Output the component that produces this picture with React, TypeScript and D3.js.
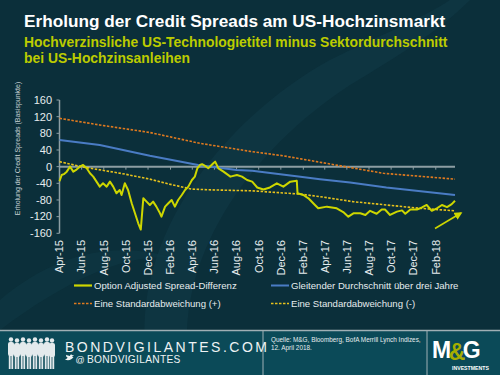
import React from "react";
import * as d3 from "d3";

const oasDates = ["2015-04-01","2015-04-07","2015-04-13","2015-04-21","2015-04-30","2015-05-09","2015-05-18","2015-05-27","2015-06-05","2015-06-15","2015-06-24","2015-07-03","2015-07-12","2015-07-21","2015-07-30","2015-08-09","2015-08-18","2015-08-27","2015-09-05","2015-09-14","2015-09-19","2015-09-28","2015-10-07","2015-10-17","2015-10-26","2015-11-04","2015-11-11","2015-11-18","2015-11-27","2015-12-06","2015-12-15","2015-12-24","2016-01-03","2016-01-07","2016-01-17","2016-01-26","2016-02-04","2016-02-13","2016-02-22","2016-03-03","2016-03-12","2016-03-21","2016-03-31","2016-04-08","2016-04-15","2016-04-22","2016-04-28","2016-05-06","2016-05-15","2016-05-29","2016-06-03","2016-06-12","2016-06-26","2016-07-15","2016-08-02","2016-08-16","2016-08-30","2016-09-13","2016-09-27","2016-10-14","2016-11-01","2016-11-20","2016-12-08","2016-12-27","2017-01-14","2017-01-16","2017-02-01","2017-02-15","2017-03-05","2017-03-14","2017-04-07","2017-05-04","2017-05-22","2017-06-05","2017-06-19","2017-07-08","2017-07-22","2017-08-04","2017-08-22","2017-09-05","2017-09-14","2017-09-28","2017-10-17","2017-10-31","2017-11-09","2017-11-23","2017-12-11","2017-12-25","2018-01-07","2018-01-21","2018-02-04","2018-02-18","2018-03-04","2018-03-17","2018-03-26"];
const oasValues = [-35,-20,-18,-12,0,-12,-7,0,4,-4,-16,-24,-36,-48,-40,-48,-36,-48,-64,-56,-68,-40,-56,-88,-112,-136,-151,-76,-84,-92,-84,-96,-112,-120,-96,-88,-80,-96,-80,-68,-56,-48,-32,-24,-4,4,6,2,-4,8,12,-4,-12,-24,-20,-24,-32,-36,-50,-55,-50,-40,-48,-36,-34,-64,-68,-76,-92,-100,-96,-100,-109,-120,-112,-112,-116,-106,-113,-103,-103,-116,-108,-105,-113,-103,-103,-98,-92,-106,-100,-92,-97,-90,-82];

const meanDates = ["2015-04-01","2015-07-21","2015-12-06","2016-04-17","2016-08-01","2016-09-13","2017-01-24","2017-03-19","2017-06-10","2017-09-18","2018-03-26"];
const meanValues = [64,52,26,4,-8,-10,-24,-30,-38,-50,-68];

const upperDates = ["2015-04-01","2015-07-21","2015-12-06","2016-04-22","2016-09-13","2016-12-08","2017-03-10","2017-05-27","2017-09-10","2018-03-26"];
const upperValues = [116,100,82,56,36,26,12,0,-16,-30];

const lowerDates = ["2015-04-01","2015-05-31","2015-09-29","2015-12-06","2016-01-29","2016-03-31","2016-06-03","2016-09-13","2017-01-24","2017-03-19","2017-06-18","2017-09-18","2017-12-19","2018-03-26"];
const lowerValues = [12,0,-18,-30,-42,-54,-56,-58,-66,-72,-84,-92,-100,-106];

const yTicks = [160,120,80,40,0,-40,-80,-120,-160];
const xTickDates = ["2015-04-01","2015-06-01","2015-08-01","2015-10-01","2015-12-01","2016-02-01","2016-04-01","2016-06-01","2016-08-01","2016-10-01","2016-12-01","2017-02-01","2017-04-01","2017-06-01","2017-08-01","2017-10-01","2017-12-01","2018-02-01"];
const monthNames = ["Jan","Feb","Mar","Apr","May","Jun","Jul","Aug","Sep","Oct","Nov","Dec"];

const legendItems = [
  { label: "Option Adjusted Spread-Differenz", color: "#cdd600", dash: "", w: 2.2 },
  { label: "Gleitender Durchschnitt über drei Jahre", color: "#4a7cc4", dash: "", w: 2 },
  { label: "Eine Standardabweichung (+)", color: "#e07a1f", dash: "2.5,1.5", w: 1.6 },
  { label: "Eine Standardabweichung (-)", color: "#e8c21c", dash: "2.5,1.5", w: 1.6 },
];

const parse = d3.utcParse("%Y-%m-%d");

export default function App() {
  const x = d3.scaleUtc().domain([parse("2015-04-01")!, parse("2018-03-26")!]).range([59.5, 455]);
  const y = d3.scaleLinear().domain([-160, 160]).range([233.3, 100]);
  const mk = (ds: string[], vs: number[]) =>
    d3.line<number>().x((_, i) => x(parse(ds[i])!)).y((v) => y(v))(vs) || "";

  const font = "'Liberation Sans', Arial, sans-serif";
  const fg = "#e6ecee";

  return (
    <svg width={500} height={375} style={{ position: "absolute", left: 0, top: 0 }} fontFamily={font}>
      <rect width={500} height={375} fill="#0b2f3a" />
      {/* faint background swirl */}
      <path d="M150,375 C120,250 220,120 330,60 C380,35 420,20 450,0 L470,0 C440,30 400,55 350,85 C250,150 170,260 190,375 Z" fill="#0f3844" opacity={0.7} />
      <path d="M0,300 C60,250 120,240 180,260 C140,250 80,270 0,330 Z" fill="#0f3844" opacity={0.6} />

      {/* titles */}
      <text x={24} y={27} fill="#ffffff" fontSize={17.2} fontWeight="bold">Erholung der Credit Spreads am US-Hochzinsmarkt</text>
      <text x={24} y={46.5} fill="#bccc00" fontSize={13.9} fontWeight="bold">Hochverzinsliche US-Technologietitel minus Sektordurchschnitt</text>
      <text x={24} y={62.5} fill="#bccc00" fontSize={13.9} fontWeight="bold">bei US-Hochzinsanleihen</text>

      {/* y axis */}
      <line x1={59.5} x2={59.5} y1={y(160)} y2={y(-160)} stroke="#8d9ea3" strokeWidth={1.5} />
      {yTicks.map((t) => (
        <g key={t}>
          <line x1={56.5} x2={59.5} y1={y(t)} y2={y(t)} stroke="#8d9ea3" strokeWidth={1} />
          <text x={52} y={y(t)} dy="0.35em" textAnchor="end" fill={fg} fontSize={11}>{t}</text>
        </g>
      ))}
      <text transform="translate(18,148.5) rotate(-90)" dy="0.35em" textAnchor="middle" fill="#c9d3d6" fontSize={7}>Erholung der Credit Spreads (Basispunkte)</text>

      {/* x axis at 0 */}
      <line x1={59.5} x2={455} y1={y(0)} y2={y(0)} stroke="#8d9ea3" strokeWidth={2} />
      {xTickDates.map((d) => {
        const dt = parse(d)!;
        const px = x(dt);
        const lbl = `${monthNames[dt.getUTCMonth()]}-${String(dt.getUTCFullYear()).slice(2)}`;
        return (
          <g key={d}>
            <line x1={px} x2={px} y1={y(0)} y2={y(0) + 3} stroke="#8d9ea3" strokeWidth={1} />
            <text transform={`translate(${px},240) rotate(-90)`} dy="0.35em" textAnchor="end" fill={fg} fontSize={11}>{lbl}</text>
          </g>
        );
      })}

      {/* series */}
      <path d={mk(upperDates, upperValues)} fill="none" stroke="#e07a1f" strokeWidth={1.6} strokeDasharray="2.5,1.5" />
      <path d={mk(meanDates, meanValues)} fill="none" stroke="#4a7cc4" strokeWidth={2} />
      <path d={mk(lowerDates, lowerValues)} fill="none" stroke="#e8c21c" strokeWidth={1.6} strokeDasharray="2.5,1.5" />
      <path d={mk(oasDates, oasValues)} fill="none" stroke="#cdd600" strokeWidth={2} strokeLinejoin="round" />

      {/* arrow */}
      <defs>
        <marker id="ah" viewBox="0 0 10 10" refX={8} refY={5} markerWidth={5} markerHeight={5} orient="auto">
          <path d="M0,0 L10,5 L0,10 Z" fill="#cdd600" />
        </marker>
      </defs>
      <line x1={435} y1={228.5} x2={461} y2={213} stroke="#cdd600" strokeWidth={1.6} markerEnd="url(#ah)" />

      {/* legend */}
      {legendItems.map((it, i) => {
        const lx = i % 2 === 0 ? 74 : 271;
        const ly = i < 2 ? 285.5 : 303.5;
        return (
          <g key={it.label}>
            <line x1={lx} x2={lx + 18} y1={ly} y2={ly} stroke={it.color} strokeWidth={it.w} strokeDasharray={it.dash || undefined} />
            <text x={lx + 20} y={ly} dy="0.35em" fill={fg} fontSize={9.6}>{it.label}</text>
          </g>
        );
      })}

      {/* footer */}
      <rect x={0} y={330} width={500} height={45} fill="#0b4a58" />
      <line x1={0} x2={500} y1={330.5} y2={330.5} stroke="#9fb0b5" strokeWidth={1.5} />
      <line x1={263} x2={263} y1={331} y2={375} stroke="#9fb0b5" strokeWidth={1} />
      <line x1={427} x2={427} y1={331} y2={375} stroke="#9fb0b5" strokeWidth={1} />
      {/* silhouettes */}
      <g fill="#e3eaec">
        {[11, 17, 23, 29, 35, 41, 47, 52].map((cx, i) => (
          <g key={cx}>
            <circle cx={cx} cy={339.5 + (i % 2)} r={2.2} />
            <rect x={cx - 3} y={342 + (i % 2)} width={6} height={14} rx={2} />
            <rect x={cx - 2.2} y={355} width={1.8} height={14} />
            <rect x={cx + 0.4} y={355} width={1.8} height={14} />
          </g>
        ))}
      </g>
      <text x={65} y={351.5} fill="#eef3f4" fontSize={14} letterSpacing={2.5}>BONDVIGILANTES.COM</text>
      <path d="M66,356.5 C68,358 70,358.5 72,357 C73,356 73.5,355.5 74,355 L72.5,355.2 C71.5,354 70,354.5 70,356 C68.5,356 67.5,355.5 66,354.8 C66,356 66.5,357 67.5,357.5 C67,358.5 66.5,359 65,359.5 C68,361 72,360 73.5,357" fill="#eef3f4" />
      <text x={75.5} y={362.5} fill="#eef3f4" fontSize={9}>@</text>
      <text x={87} y={362.5} fill="#eef3f4" fontSize={10.2} letterSpacing={0.3}>BONDVIGILANTES</text>
      <text x={271} y={341.5} fill="#e6ecee" fontSize={6.4}>Quelle: M&amp;G,  Bloomberg, BofA Merrill Lynch Indizes,</text>
      <text x={271} y={349.5} fill="#e6ecee" fontSize={6.4}>12. April 2018.</text>
      {/* M&G logo */}
      <text x={432} y={358} fill="#ffffff" fontSize={23} fontWeight="bold" letterSpacing={-2.5}>
        M<tspan fill="#a6ae00" dy={2}>&amp;</tspan><tspan dy={-2}>G</tspan>
      </text>
      <text x={452} y={370} fill="#ffffff" fontSize={5.2} fontWeight="bold">INVESTMENTS</text>
    </svg>
  );
}
